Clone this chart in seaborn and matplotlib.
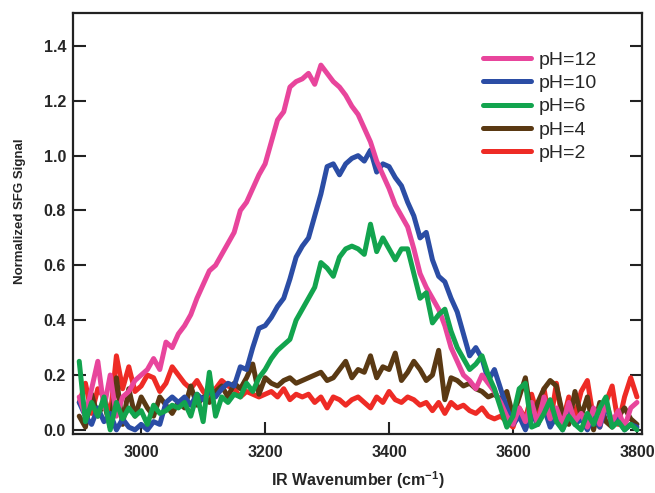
import numpy as np
import pandas as pd
import seaborn as sns
import matplotlib.pyplot as plt

# wavenumber grid (cm-1), 10 cm-1 steps
wavenumber = list(range(2900, 3801, 10))

ph12 = [0.12, 0.05, 0.15, 0.25, 0.08, 0.20, 0.05, 0.12, 0.14, 0.18,
        0.20, 0.22, 0.26, 0.22, 0.32, 0.30, 0.35, 0.38, 0.42, 0.48,
        0.53, 0.58, 0.60, 0.64, 0.68, 0.72, 0.80, 0.83, 0.88, 0.93,
        0.97, 1.05, 1.13, 1.16, 1.25, 1.27, 1.28, 1.30, 1.26, 1.33,
        1.30, 1.27, 1.25, 1.22, 1.18, 1.15, 1.10, 1.05, 0.98, 0.93,
        0.88, 0.82, 0.78, 0.74, 0.66, 0.57, 0.52, 0.48, 0.44, 0.38,
        0.30, 0.25, 0.20, 0.18, 0.15, 0.20, 0.17, 0.14, 0.10, 0.05,
        0.02, 0.08, 0.03, 0.10, 0.02, 0.12, 0.04, 0.08, 0.02, 0.10,
        0.03, 0.06, 0.01, 0.08, 0.02, 0.10, 0.03, 0.07, 0.01, 0.08, 0.10]

ph10 = [0.10, 0.05, 0.02, 0.08, 0.03, 0.06, 0.00, 0.04, 0.01, 0.00,
        0.02, 0.00, 0.03, 0.02, 0.10, 0.12, 0.10, 0.12, 0.09, 0.13,
        0.11, 0.14, 0.12, 0.15, 0.17, 0.16, 0.23, 0.22, 0.30, 0.37,
        0.38, 0.41, 0.45, 0.48, 0.55, 0.63, 0.67, 0.70, 0.78, 0.86,
        0.96, 0.97, 0.93, 0.97, 0.99, 1.00, 0.98, 1.02, 0.94, 0.97,
        0.96, 0.92, 0.89, 0.83, 0.78, 0.70, 0.72, 0.62, 0.56, 0.54,
        0.48, 0.43, 0.35, 0.27, 0.30, 0.26, 0.18, 0.22, 0.15, 0.08,
        0.02, 0.05, 0.00, 0.06, 0.02, 0.08, 0.01, 0.05, 0.00, 0.07,
        0.02, 0.04, 0.00, 0.05, 0.01, 0.09, 0.02, 0.04, 0.00, 0.02, 0.01]

ph6 = [0.25, 0.03, 0.10, 0.05, 0.12, 0.00, 0.10, 0.04, 0.08, 0.05,
       0.07, 0.02, 0.09, 0.06, 0.07, 0.09, 0.08, 0.10, 0.05, 0.13,
       0.03, 0.21, 0.05, 0.12, 0.10, 0.13, 0.12, 0.17, 0.14, 0.19,
       0.22, 0.26, 0.29, 0.31, 0.33, 0.40, 0.44, 0.48, 0.52, 0.61,
       0.59, 0.56, 0.63, 0.66, 0.67, 0.66, 0.64, 0.75, 0.65, 0.70,
       0.66, 0.62, 0.66, 0.66, 0.57, 0.48, 0.50, 0.39, 0.42, 0.44,
       0.36, 0.30, 0.26, 0.22, 0.24, 0.27, 0.20, 0.15, 0.08, 0.01,
       0.05, 0.15, 0.17, 0.01, 0.02, 0.06, 0.11, 0.03, 0.00, 0.05,
       0.02, 0.00, 0.06, 0.02, 0.08, 0.12, 0.01, 0.03, 0.00, 0.02, 0.00]

ph4 = [0.05, 0.01, 0.13, 0.05, 0.10, 0.01, 0.19, 0.02, 0.15, 0.05,
       0.12, 0.08, 0.05, 0.12, 0.09, 0.06, 0.10, 0.08, 0.16, 0.09,
       0.12, 0.10, 0.14, 0.16, 0.12, 0.17, 0.15, 0.19, 0.24, 0.13,
       0.19, 0.17, 0.16, 0.18, 0.19, 0.17, 0.18, 0.19, 0.20, 0.21,
       0.18, 0.19, 0.22, 0.25, 0.19, 0.22, 0.21, 0.27, 0.19, 0.23,
       0.22, 0.28, 0.18, 0.21, 0.25, 0.22, 0.18, 0.20, 0.29, 0.11,
       0.19, 0.18, 0.16, 0.17, 0.15, 0.14, 0.12, 0.13, 0.11, 0.14,
       0.05, 0.12, 0.19, 0.04, 0.10, 0.15, 0.18, 0.16, 0.06, 0.02,
       0.14, 0.05, 0.12, 0.00, 0.10, 0.03, 0.01, 0.05, 0.08, 0.04, 0.02]

ph2 = [0.10, 0.17, 0.06, 0.15, 0.12, 0.05, 0.27, 0.15, 0.23, 0.14,
       0.16, 0.20, 0.19, 0.14, 0.17, 0.23, 0.20, 0.17, 0.15, 0.18,
       0.14, 0.12, 0.15, 0.18, 0.16, 0.15, 0.12, 0.14, 0.13, 0.12,
       0.13, 0.14, 0.12, 0.15, 0.11, 0.13, 0.12, 0.13, 0.10, 0.12,
       0.08, 0.12, 0.11, 0.09, 0.11, 0.12, 0.10, 0.08, 0.12, 0.10,
       0.14, 0.11, 0.10, 0.12, 0.11, 0.09, 0.10, 0.07, 0.10, 0.06,
       0.10, 0.08, 0.09, 0.07, 0.06, 0.08, 0.05, 0.04, 0.05, 0.03,
       0.01, 0.08, 0.04, 0.13, 0.05, 0.15, 0.02, 0.17, 0.03, 0.12,
       0.05, 0.14, 0.18, 0.04, 0.01, 0.10, 0.16, 0.02, 0.12, 0.19, 0.12]

labels = ["pH=12", "pH=10", "pH=6", "pH=4", "pH=2"]
colors = ["#E8459C", "#2B4DA5", "#12A44E", "#5A3913", "#EE2B25"]
series = [ph12, ph10, ph6, ph4, ph2]

sns.set_theme(style="ticks")
plt.rcParams['font.family'] = ['Liberation Sans', 'DejaVu Sans']
plt.rcParams['mathtext.fontset'] = 'custom'
plt.rcParams['mathtext.rm'] = 'Liberation Sans:bold'
plt.rcParams['mathtext.bf'] = 'Liberation Sans:bold'

fig = plt.figure(figsize=(6.55, 4.93), dpi=100)
ax = fig.add_axes([0.1115, 0.1197, 0.8685, 0.8539])

# draw order: red, brown, blue, pink, green on top
handles = {}
for i in [4, 3, 1, 0, 2]:
    df = pd.DataFrame({"wn": wavenumber, "sig": series[i]})
    sns.lineplot(data=df, x="wn", y="sig", color=colors[i], lw=3.6,
                 ax=ax, label=labels[i])
    handles[labels[i]] = ax.lines[-1]

ax.set_xlim(2890, 3808)
ax.set_ylim(-0.015, 1.52)
ax.set_xticks([3000, 3200, 3400, 3600, 3800])
ax.set_yticks(np.arange(0, 1.41, 0.2))
ax.set_yticklabels([f"{v:.1f}" for v in np.arange(0, 1.41, 0.2)])

for s in ax.spines.values():
    s.set_linewidth(1.6)
    s.set_color("#222222")
ax.tick_params(direction="in", length=9, width=1.5, labelsize=11.5,
               right=True, top=False, color="#222222")
ax.tick_params(axis="y", pad=5)
ax.tick_params(axis="x", pad=8)
for lab in ax.get_xticklabels() + ax.get_yticklabels():
    lab.set_fontweight("bold")

ax.set_xlabel("IR Wavenumber (cm$^{-1}$)", fontsize=11.5, fontweight="bold")
ax.set_ylabel("Normalized SFG Signal", fontsize=9.5, fontweight="bold")
ax.yaxis.set_label_coords(-0.083, 0.53)
ax.xaxis.set_label_coords(0.5, -0.083)

ax.legend([handles[l] for l in labels], labels, loc="upper left",
          bbox_to_anchor=(0.72, 0.91), frameon=False, fontsize=14,
          handlelength=2.5, handletextpad=0.4, labelspacing=0.3,
          borderpad=0, borderaxespad=0)

fig.savefig("out.png", dpi=100)
